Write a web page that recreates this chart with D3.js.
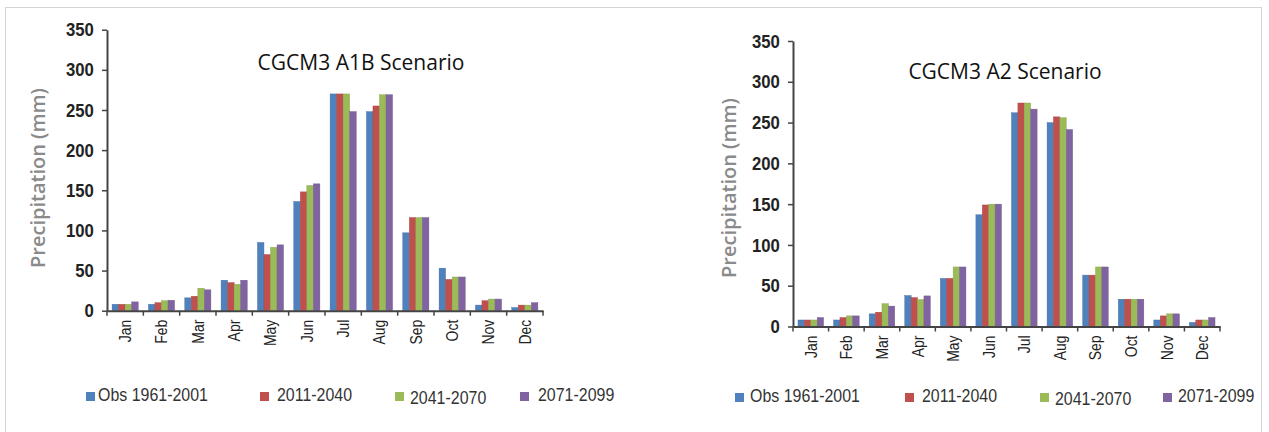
<!DOCTYPE html>
<html>
<head>
<meta charset="utf-8">
<script src="https://cdn.jsdelivr.net/npm/d3@7"></script>
<style>
  html, body { margin: 0; padding: 0; background: #fff; }
  svg { display: block; }
</style>
</head>
<body>
<svg id="chart" width="1269" height="432"></svg>
<script>
// Monthly precipitation (mm), CGCM3 downscaled projections
const months = ["Jan", "Feb", "Mar", "Apr", "May", "Jun", "Jul", "Aug", "Sep", "Oct", "Nov", "Dec"];
const seriesNames = ["Obs 1961-2001", "2011-2040", "2041-2070", "2071-2099"];
const seriesColors = ["#4F81BD", "#C0504D", "#9BBB59", "#8064A2"];
const yTicks = [0, 50, 100, 150, 200, 250, 300, 350];

// A1B scenario
const a1bObs  = [8, 8, 16, 38, 85, 136, 270, 248, 97, 53, 7, 4];
const a1b2011 = [8, 10, 18, 35, 70, 148, 270, 255, 116, 39, 12.5, 7];
const a1b2041 = [8, 12.5, 28, 33, 79, 156, 270, 269, 116, 42, 14.5, 7];
const a1b2071 = [11, 13, 26, 38, 82, 158, 248, 269, 116, 42, 14.5, 10];

// A2 scenario
const a2Obs  = [8, 8, 15.5, 38, 59, 137, 262, 250, 63, 33.5, 8, 5];
const a2_2011 = [8, 11, 17.5, 35.5, 59, 149, 274, 257, 63, 33.5, 13, 8];
const a2_2041 = [8, 13, 28, 33, 73, 150, 274, 256, 73, 33.5, 15.5, 8];
const a2_2071 = [11, 13, 25, 37.5, 73, 150, 266.5, 241.5, 73, 33.5, 15.5, 11];

// condensed look for the axis and legend lettering
const narrow = 0.84;
const sansFont = "'Liberation Sans', Arial, sans-serif";

const svg = d3.select("#chart");

// light frame around the figure
svg.append("rect")
  .attr("x", 5.5).attr("y", 7.5)
  .attr("width", 1256).attr("height", 440)
  .attr("fill", "none").attr("stroke", "#d4d4d4").attr("stroke-width", 1);

const panels = [
  {
    title: "CGCM3 A1B Scenario",
    series: [a1bObs, a1b2011, a1b2041, a1b2071],
    left: 107, right: 543, bottom: 310.7, top: 29.7,
    titleX: 361, titleY: 70,
    yLabelX: 38, yLabelY: 178,
    legendSquares: [86, 260, 395, 520],
    legendTexts: [98, 277, 410, 538],
    legendY: 392
  },
  {
    title: "CGCM3 A2 Scenario",
    series: [a2Obs, a2_2011, a2_2041, a2_2071],
    left: 793, right: 1220, bottom: 326.5, top: 41,
    titleX: 1005, titleY: 79,
    yLabelX: 729, yLabelY: 188,
    legendSquares: [735, 905, 1040, 1163],
    legendTexts: [750, 922, 1055, 1178],
    legendY: 393
  }
];

panels.forEach(p => {
  const g = svg.append("g");

  const x0 = d3.scaleBand().domain(months).range([p.left, p.right]).padding(0);
  const bw = x0.bandwidth();
  const x1 = d3.scaleBand().domain(seriesNames).range([bw * 0.14, bw * 0.86]).padding(0);
  const y = d3.scaleLinear().domain([0, 350]).range([p.bottom, p.top]);

  // bars
  months.forEach((m, i) => {
    seriesNames.forEach((s, k) => {
      const v = p.series[k][i];
      g.append("rect")
        .attr("x", x0(m) + x1(s))
        .attr("y", y(v))
        .attr("width", x1.bandwidth())
        .attr("height", y(0) - y(v))
        .attr("fill", seriesColors[k])
        .attr("stroke", d3.color(seriesColors[k]).darker(0.4))
        .attr("stroke-width", 0.4);
    });
  });

  // y axis
  const yAxis = g.append("g")
    .attr("transform", `translate(${p.left},0)`)
    .call(d3.axisLeft(y).tickValues(yTicks).tickSize(5).tickPadding(10).tickSizeOuter(0));
  yAxis.select(".domain").attr("stroke", "#444").attr("stroke-width", 2);
  yAxis.selectAll(".tick line").attr("stroke", "#444").attr("stroke-width", 1.5);
  yAxis.selectAll(".tick text")
    .attr("font-family", sansFont)
    .attr("font-weight", "bold")
    .attr("font-size", 19)
    .attr("fill", "#222")
    .attr("transform", `scale(${narrow + 0.04},1)`);

  // x axis: baseline, category boundary ticks, rotated month labels
  const xAxis = g.append("g")
    .attr("transform", `translate(0,${p.bottom})`)
    .call(d3.axisBottom(x0).tickSize(0).tickPadding(9).tickSizeOuter(0));
  xAxis.select(".domain").attr("stroke", "#444").attr("stroke-width", 2);
  xAxis.selectAll(".tick text")
    .attr("font-family", sansFont)
    .attr("font-size", 17)
    .attr("fill", "#222")
    .attr("text-anchor", "end")
    .attr("transform", `rotate(-90) scale(${narrow - 0.02},1)`)
    .attr("x", -11)
    .attr("y", 0)
    .attr("dy", "0.35em");

  const bounds = months.map(m => x0(m)).concat([x0.range()[1]]);
  xAxis.selectAll(".bound")
    .data(bounds)
    .join("line")
    .attr("class", "bound")
    .attr("x1", d => d).attr("x2", d => d)
    .attr("y1", 0).attr("y2", 5)
    .attr("stroke", "#444").attr("stroke-width", 1.5);

  // y axis title
  g.append("text")
    .attr("transform", `translate(${p.yLabelX},${p.yLabelY}) rotate(-90)`)
    .attr("text-anchor", "middle")
    .attr("dy", "0.35em")
    .attr("font-family", "'Open Sans', 'Noto Sans', sans-serif")
    .attr("font-size", 20)
    .attr("font-weight", 600)
    .attr("fill", "#8a8a8a")
    .text("Precipitation (mm)");

  // chart title
  g.append("text")
    .attr("x", p.titleX).attr("y", p.titleY)
    .attr("text-anchor", "middle")
    .attr("font-family", "'Open Sans', 'Noto Sans', sans-serif")
    .attr("font-size", 21)
    .attr("fill", "#111")
    .text(p.title);

  // legend
  seriesNames.forEach((s, k) => {
    const drop = k === 2 ? 3 : 0;
    g.append("rect")
      .attr("x", p.legendSquares[k]).attr("y", p.legendY)
      .attr("width", 9).attr("height", 9)
      .attr("fill", seriesColors[k]);
    g.append("text")
      .attr("transform", `translate(${p.legendTexts[k]},${p.legendY + 9 + drop}) scale(${narrow},1)`)
      .attr("font-family", sansFont)
      .attr("font-size", 19)
      .attr("fill", "#333")
      .text(s);
  });
});
</script>
</body>
</html>
